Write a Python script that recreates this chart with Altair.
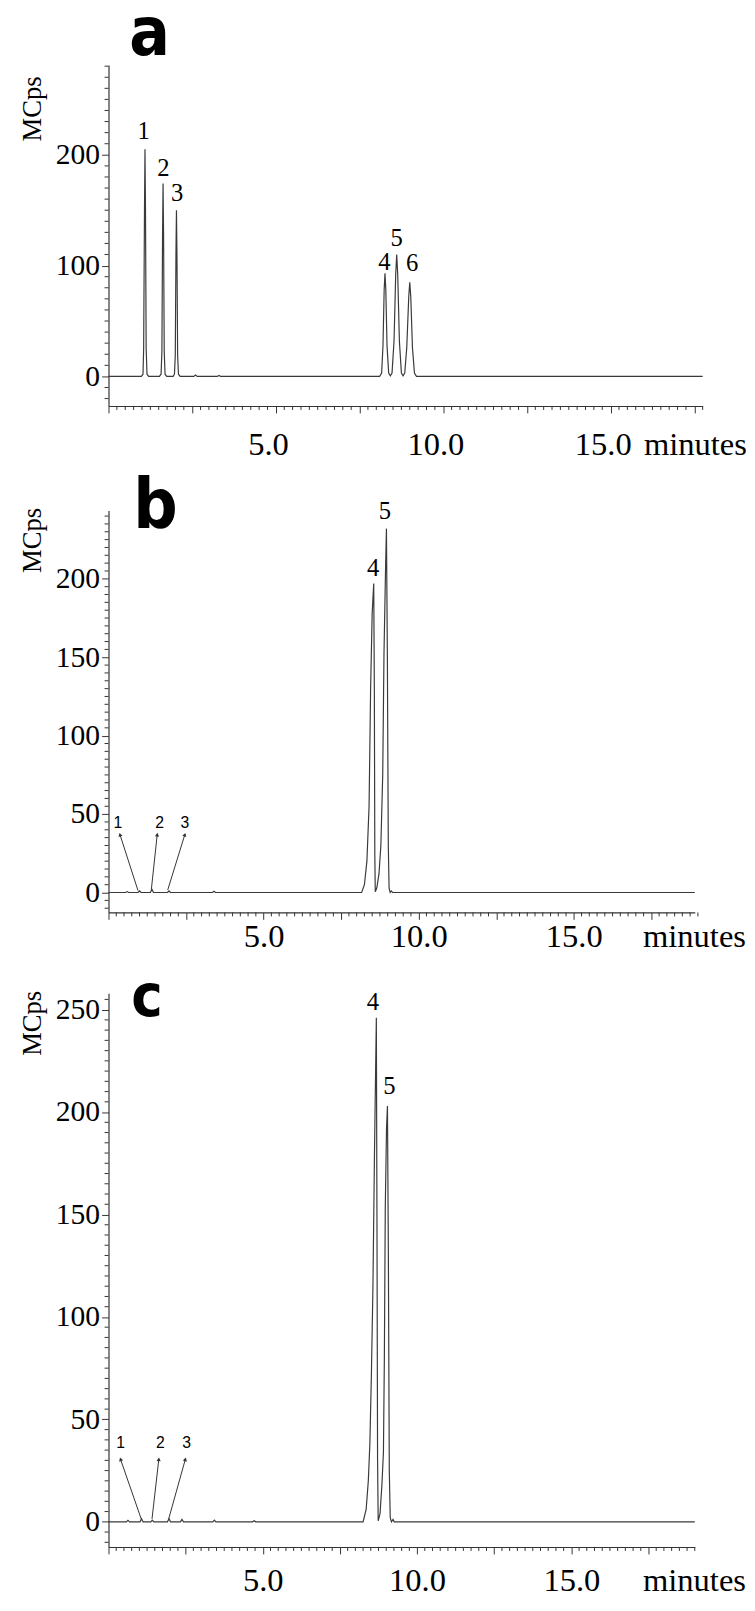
import math
import altair as alt
import pandas as pd

SERIF = "Liberation Serif"
SANS = "Liberation Sans"
BOLD = "Liberation Sans Narrow, DejaVu Sans Condensed, Liberation Sans, sans-serif"
INK = "#3a3a3a"
AXC = "#333333"

# ---------------- data ----------------
# panel a trace (time in minutes, signal in MCps)
a_time = [0.0, 0.98, 1.03, 1.05, 1.075, 1.09, 1.105, 1.125, 1.15, 1.20,
          1.52, 1.57, 1.595, 1.615, 1.63, 1.645, 1.665, 1.69, 1.74,
          1.93, 1.97, 1.995, 2.015, 2.03, 2.045, 2.065, 2.09, 2.14,
          2.55, 2.60, 2.65, 3.25, 3.30, 3.35,
          8.10, 8.16, 8.20, 8.235, 8.26, 8.285, 8.32, 8.37, 8.42,
          8.47, 8.53, 8.58, 8.61, 8.64, 8.69, 8.75, 8.80,
          8.85, 8.91, 8.97, 9.00, 9.03, 9.08, 9.14, 9.20, 17.75]
a_sig = [0, 0, 2, 25, 150, 205, 150, 25, 2, 0,
         0, 2, 22, 128, 174, 128, 22, 2, 0,
         0, 2, 19, 110, 150, 110, 19, 2, 0,
         0, 1.2, 0, 0, 0.8, 0,
         0, 3, 28, 78, 93, 78, 28, 3, 0.5,
         3, 32, 92, 110, 92, 32, 3, 0.5,
         3, 26, 72, 85, 72, 26, 3, 0, 0]

# panel b trace
b_time = [0.0, 0.55, 0.60, 0.65, 0.95, 1.00, 1.05, 1.35, 1.40, 1.45,
          1.90, 1.95, 2.00, 3.35, 3.40, 3.45,
          8.16, 8.25, 8.33, 8.40, 8.45, 8.50, 8.55, 8.57, 8.585, 8.60,
          8.65, 8.72, 8.78, 8.84, 8.88, 8.93, 8.96, 8.99, 9.02, 9.045,
          9.08, 9.12, 9.16, 18.9]
b_sig = [0, 0, 0.6, 0, 0, 1.0, 0, 0, 2.0, 0,
         0, 1.0, 0, 0, 0.8, 0,
         0, 5, 20, 55, 130, 178, 197, 130, 25, 0.5,
         3, 12, 30, 75, 151, 205, 232, 150, 30, 3,
         0, 1.0, 0, 0]

# panel c trace
c_time = [0.0, 0.58, 0.63, 0.68, 1.02, 1.07, 1.12, 1.37, 1.42, 1.47,
          1.91, 1.96, 2.01, 2.33, 2.38, 2.43, 3.38, 3.43, 3.48, 4.67, 4.72, 4.77,
          8.25, 8.35, 8.42, 8.47, 8.52, 8.57, 8.62, 8.68, 8.70, 8.72, 8.74,
          8.80, 8.86, 8.91, 8.94, 8.97, 9.01, 9.04, 9.07, 9.10, 9.13, 9.17,
          9.22, 9.26, 19.0]
c_sig = [0, 0, 0.7, 0, 0, 1.5, 0, 0, 0.8, 0,
         0, 1.5, 0, 0, 1.2, 0, 0, 0.8, 0, 0, 0.5, 0,
         0, 6, 20, 38, 72, 115, 180, 246, 150, 30, 0.5,
         4, 18, 34, 80, 154, 192, 203, 130, 25, 2, 0,
         1.2, 0, 0]

# peak number labels: text, time, signal
a_lab = ["1", "2", "3", "4", "5", "6"]
a_lab_t = [1.05, 1.64, 2.05, 8.24, 8.61, 9.07]
a_lab_v = [221.7, 187.6, 165.0, 103.6, 124.5, 102.0]

b_lab = ["4", "5"]
b_lab_t = [8.53, 8.91]
b_lab_v = [207.0, 243.0]

c_lab = ["4", "5"]
c_lab_t = [8.57, 9.10]
c_lab_v = [253.6, 212.5]

# arrow annotations for minor peaks 1-3 (panels b and c)
arr_lab = ["1", "2", "3"]
b_arr_lab_t = [0.30, 1.65, 2.46]
b_arr_lab_v = [44.3, 44.3, 44.3]
b_arr_t1 = [0.95, 1.38, 1.91]
b_arr_v1 = [1.3, 1.7, 1.7]
b_arr_t2 = [0.37, 1.57, 2.46]
b_arr_v2 = [36.9, 36.9, 36.9]

c_arr_lab_t = [0.39, 1.68, 2.53]
c_arr_lab_v = [38.3, 38.3, 38.3]
c_arr_t1 = [1.06, 1.41, 1.95]
c_arr_v1 = [1.4, 1.4, 1.4]
c_arr_t2 = [0.39, 1.63, 2.49]
c_arr_v2 = [30.5, 30.5, 30.5]

# axis ticks: major x ticks every 2.5 min (labels at 5, 10, 15), minor every 0.25 min
X_MINOR = 0.25


def panel(t, v, xmax, width, ydom, height, ymajor, yminor, lab, lab_t, lab_v,
          letter, letter_size, letter_x, letter_y, xlab_pad, xlab_off, xtitle_x,
          ytitle_y, arrows=None):
    nmin = int(round(xmax / X_MINOR))
    x_major = [k * X_MINOR for k in range(nmin + 1) if k % 10 == 0]
    x_minor = [k * X_MINOR for k in range(nmin + 1) if k % 10 != 0]
    y_all = list(range(int(math.ceil(ydom[0] / yminor)) * yminor, int(ydom[1]) + 1, yminor))
    y_major = [y for y in y_all if y % ymajor == 0 and y >= 0]
    y_minor = [y for y in y_all if not (y % ymajor == 0 and y >= 0)]

    xscale = alt.Scale(domain=[0, xmax], nice=False, zero=False)
    yscale = alt.Scale(domain=ydom, nice=False, zero=False)
    xaxis = alt.Axis(
        values=x_major, tickSize=7,
        labelExpr="datum.value % 5 === 0 && datum.value > 0 ? format(datum.value, '.1f') : ''",
        labelPadding=xlab_pad, labelOffset=xlab_off, labelOverlap=False, labelFlush=False,
        labelFont=SERIF, labelFontSize=33, labelColor="black",
        title="minutes", titleFont=SERIF, titleFontSize=33, titleFontWeight="normal",
        titleColor="black", titleX=xtitle_x, titleY=7 + xlab_pad, titleAlign="left",
        titleBaseline="top", grid=False,
    )
    yaxis = alt.Axis(
        values=y_major, tickSize=7,
        labelPadding=2, labelOverlap=False, labelFlush=False,
        labelFont=SERIF, labelFontSize=30, labelColor="black",
        title="MCps", titleFont=SERIF, titleFontSize=27, titleFontWeight="normal",
        titleColor="black", titleAngle=270, titleX=-77, titleY=ytitle_y,
        titleAlign="center", titleBaseline="middle", grid=False,
    )

    def X(field):
        return alt.X(field, scale=xscale, axis=xaxis)

    def Y(field):
        return alt.Y(field, scale=yscale, axis=yaxis)

    df = pd.DataFrame({"t": t, "v": v})
    line = alt.Chart(df).mark_line(color=INK, strokeWidth=1.2).encode(
        x=X("t:Q"), y=Y("v:Q"))

    xt = alt.Chart(pd.DataFrame({"tx": x_minor})).mark_rule(color=AXC, strokeWidth=1).encode(
        x=X("tx:Q"), y=alt.value(height), y2=alt.value(height + 4))
    yt = alt.Chart(pd.DataFrame({"ty": y_minor})).mark_rule(color=AXC, strokeWidth=1).encode(
        y=Y("ty:Q"), x=alt.value(0), x2=alt.value(-4))

    ldf = pd.DataFrame({"lab": lab, "t": lab_t, "v": lab_v})
    labels = alt.Chart(ldf).mark_text(font=SERIF, fontSize=25, color="black",
                                      baseline="middle", align="center").encode(
        x=X("t:Q"), y=Y("v:Q"), text="lab:N")
    letter_mark = alt.Chart(pd.DataFrame({"letter": [letter]})).mark_text(
        font=BOLD, fontSize=letter_size, fontWeight="bold", color="black",
        align="left", baseline="alphabetic").encode(
        x=alt.value(letter_x), y=alt.value(letter_y), text="letter:N")
    layers = [line, xt, yt, labels, letter_mark]
    if arrows is not None:
        lt, lv, t1, v1, t2, v2 = arrows
        pxm = width / xmax
        pym = height / (ydom[1] - ydom[0])
        ang = [math.degrees(math.atan2((b2 - b1) * pxm, (w2 - w1) * pym)) % 360
               for b1, w1, b2, w2 in zip(t1, v1, t2, v2)]
        adf = pd.DataFrame({"lab": arr_lab, "lt": lt, "lv": lv, "t1": t1, "v1": v1,
                            "t2": t2, "v2": v2, "ang": ang})
        rules = alt.Chart(adf).mark_rule(color=AXC, strokeWidth=1).encode(
            x=X("t1:Q"), y=Y("v1:Q"), x2="t2:Q", y2="v2:Q")
        heads = alt.Chart(adf).mark_point(shape="triangle-up", filled=True, size=18,
                                          color=AXC, opacity=1).encode(
            x=X("t2:Q"), y=Y("v2:Q"), angle=alt.Angle("ang:Q", scale=None))
        alabels = alt.Chart(adf).mark_text(font=SANS, fontSize=16, color="black",
                                           baseline="middle", align="center").encode(
            x=X("lt:Q"), y=Y("lv:Q"), text="lab:N")
        layers += [rules, heads, alabels]
    return alt.layer(*layers).properties(width=width, height=height)


pa = panel(a_time, a_sig, 17.75, 603, [-26.7, 281], 346, 100, 10,
           a_lab, a_lab_t, a_lab_v, "a", 68, 21, -10, 16, -8, 543, 44)
pb = panel(b_time, b_sig, 18.9, 595, [-12.7, 243.6], 408, 50, 5,
           b_lab, b_lab_t, b_lab_v, "b", 70, 25, 18, 2, 0, 542, 30,
           arrows=(b_arr_lab_t, b_arr_lab_v, b_arr_t1, b_arr_v1, b_arr_t2, b_arr_v2))
pc = panel(c_time, c_sig, 19.0, 595, [-12.3, 258], 562, 50, 5,
           c_lab, c_lab_t, c_lab_v, "c", 60, 23, 23, 11, 0, 542, 30,
           arrows=(c_arr_lab_t, c_arr_lab_v, c_arr_t1, c_arr_v1, c_arr_t2, c_arr_v2))

chart = alt.vconcat(
    pa,
    alt.vconcat(pb, pc, spacing=82, bounds="flush"),
    spacing=106, bounds="flush",
).properties(
    padding={"left": 11, "top": -18, "right": 0, "bottom": 0},
).configure_view(stroke=None).configure_axis(
    domainColor=AXC, domainWidth=1.2, tickColor=AXC, tickWidth=1,
)

chart.save("out.html", embed_options={"renderer": "svg", "actions": False})
